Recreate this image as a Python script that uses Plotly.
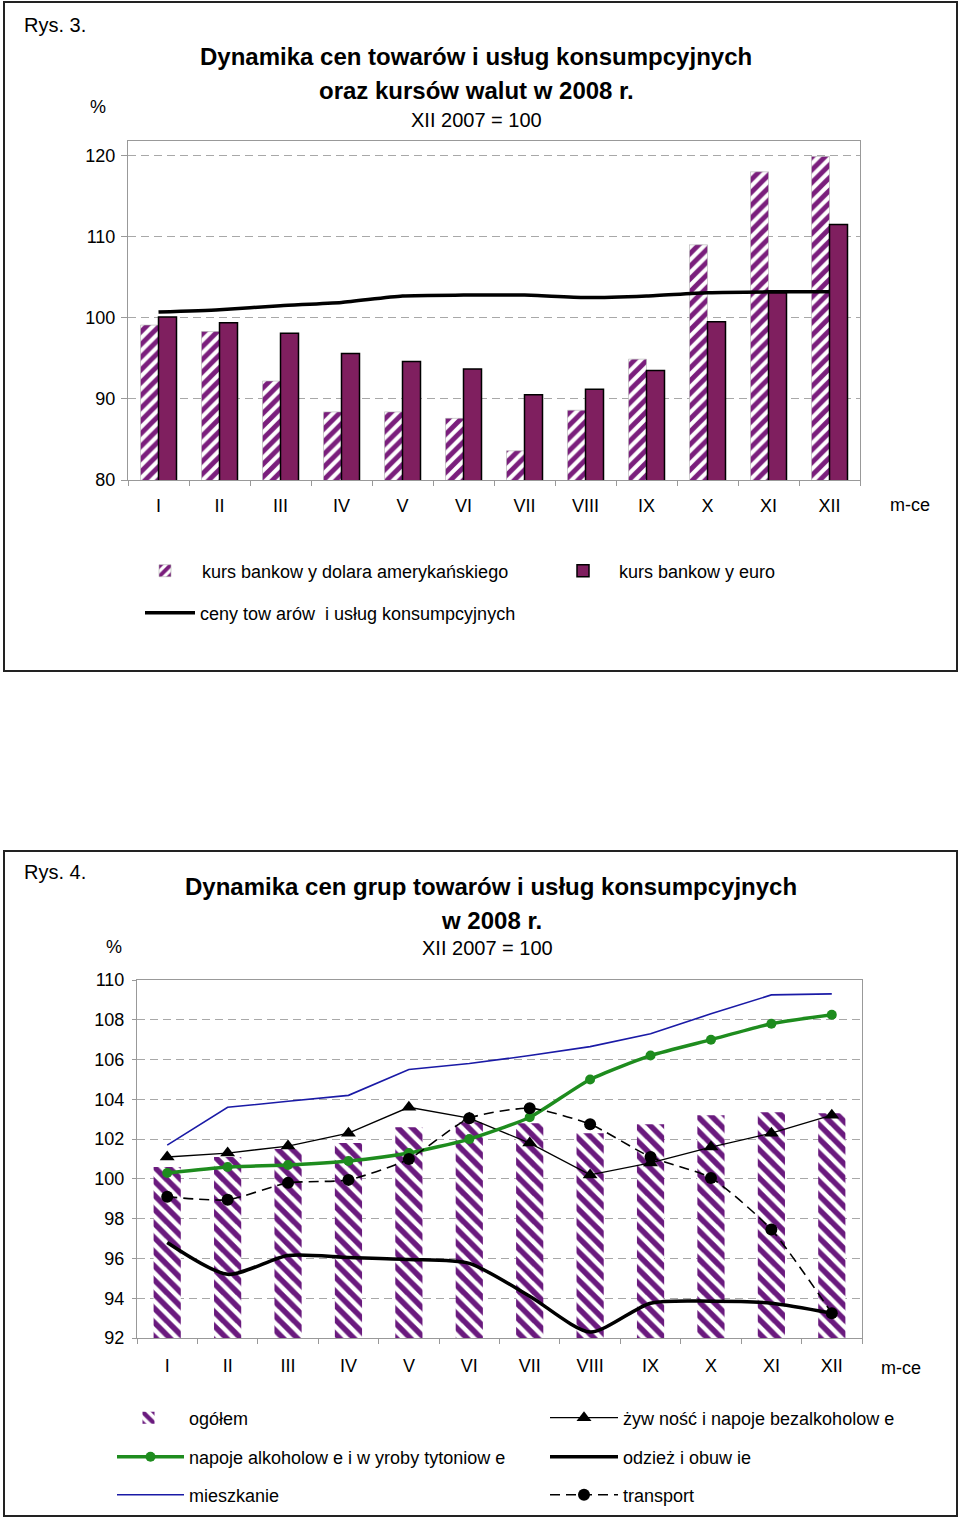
import plotly.graph_objects as go

# ---------------- data ----------------
months = ["I", "II", "III", "IV", "V", "VI", "VII", "VIII", "IX", "X", "XI", "XII"]

# Rys. 3
usd = [99.1, 98.3, 92.2, 88.4, 88.4, 87.6, 83.6, 88.6, 94.9, 109.0, 118.0, 119.9]
eur = [100.1, 99.4, 98.1, 95.6, 94.6, 93.7, 90.5, 91.2, 93.5, 99.5, 103.1, 111.5]
cpi = [100.7, 101.0, 101.5, 101.9, 102.7, 102.8, 102.8, 102.5, 102.7, 103.1, 103.2, 103.2]

# Rys. 4
ogolem = [100.6, 101.1, 101.5, 101.8, 102.6, 102.85, 102.8, 102.3, 102.75, 103.2, 103.35, 103.3]
zywnosc = [101.1, 101.3, 101.65, 102.3, 103.6, 103.05, 101.8, 100.2, 100.8, 101.6, 102.3, 103.2]
napoje = [100.3, 100.6, 100.7, 100.9, 101.3, 102.0, 103.1, 105.0, 106.2, 107.0, 107.8, 108.25]
mieszkanie = [101.7, 103.6, 103.9, 104.2, 105.5, 105.8, 106.2, 106.65, 107.3, 108.3, 109.25, 109.3]
odziez = [96.8, 95.2, 96.15, 96.05, 95.95, 95.75, 94.1, 92.3, 93.75, 93.85, 93.75, 93.25]
transport = [99.1, 98.95, 99.8, 99.95, 101.0, 103.05, 103.55, 102.75, 101.1, 100.05, 97.45, 93.25]

# ---------------- style ----------------
W, H = 960, 1520
FONT = "Liberation Sans, Arial, sans-serif"
PURPLE_HATCH = "#7a1e7c"
EURO = "#7f1f5f"
HATCH2 = "#6a1a7e"
GREEN = "#1e8c1e"
BLUE = "#1a1aa6"
GRID = "#a8a8a8"
AXIS = "#999999"


def px(x):
    return x / W


def py(y):
    return 1 - y / H


fig = go.Figure()

# ---- chart 1 ----
fig.add_trace(go.Bar(
    x=months, y=usd, name="kurs bankow y dolara amerykańskiego",
    width=0.295, offset=-0.295,
    marker=dict(color="white", line=dict(color="#b0b0b0", width=0.6),
                pattern=dict(shape="/", fgcolor=PURPLE_HATCH, bgcolor="white",
                             fgopacity=1, size=9, solidity=0.55, fillmode="overlay")),
    xaxis="x", yaxis="y", legend="legend",
))
fig.add_trace(go.Bar(
    x=months, y=eur, name="kurs bankow y euro",
    width=0.295, offset=0,
    marker=dict(color=EURO, line=dict(color="black", width=1.5)),
    xaxis="x", yaxis="y", legend="legend2",
))
fig.add_trace(go.Scatter(
    x=months, y=cpi, name="ceny tow arów  i usług konsumpcyjnych",
    mode="lines", line=dict(color="black", width=3.5, shape="spline", smoothing=0.6),
    xaxis="x", yaxis="y", legend="legend3",
))

# ---- chart 2 ----
fig.add_trace(go.Bar(
    x=months, y=ogolem, name="ogółem",
    width=0.45, offset=-0.225,
    marker=dict(color="white", line=dict(width=0),
                pattern=dict(shape="\\", fgcolor=HATCH2, bgcolor="white",
                             fgopacity=1, size=10, solidity=0.55, fillmode="overlay")),
    xaxis="x2", yaxis="y2", legend="legend4",
))
fig.add_trace(go.Scatter(
    x=months, y=zywnosc, name="żyw ność i napoje bezalkoholow e",
    mode="lines+markers", line=dict(color="black", width=1.3),
    marker=dict(symbol="triangle-up", size=13, color="black"),
    xaxis="x2", yaxis="y2", legend="legend5",
))
fig.add_trace(go.Scatter(
    x=months, y=napoje, name="napoje alkoholow e i w yroby tytoniow e",
    mode="lines+markers", line=dict(color=GREEN, width=3.5, shape="spline", smoothing=0.6),
    marker=dict(symbol="circle", size=10, color=GREEN),
    xaxis="x2", yaxis="y2", legend="legend6",
))
fig.add_trace(go.Scatter(
    x=months, y=odziez, name="odzież i obuw ie",
    mode="lines", line=dict(color="black", width=3.5, shape="spline", smoothing=0.7),
    xaxis="x2", yaxis="y2", legend="legend7",
))
fig.add_trace(go.Scatter(
    x=months, y=mieszkanie, name="mieszkanie",
    mode="lines", line=dict(color=BLUE, width=1.6),
    xaxis="x2", yaxis="y2", legend="legend8",
))
fig.add_trace(go.Scatter(
    x=months, y=transport, name="transport",
    mode="lines+markers", line=dict(color="black", width=1.6, dash="10px,6px",
                                    shape="spline", smoothing=0.6),
    marker=dict(symbol="circle", size=12, color="black"),
    xaxis="x2", yaxis="y2", legend="legend9",
))

tickfont = dict(family=FONT, size=18, color="black")

xcommon = dict(type="category", categoryorder="array", categoryarray=months,
               range=[-0.5, len(months) - 0.5], autorange=False,
               tickson="boundaries", ticks="outside", ticklen=5, tickcolor=AXIS,
               showline=True, linecolor=AXIS, linewidth=1, mirror=True,
               showgrid=False, zeroline=False, tickfont=tickfont,
               fixedrange=True)
ycommon = dict(ticks="outside", tickcolor=AXIS, showline=True, linecolor=AXIS,
               linewidth=1, mirror=True, showgrid=True, gridcolor=GRID,
               griddash="8px,5px", gridwidth=1, zeroline=False,
               tickfont=tickfont, fixedrange=True)


def legend_at(x, y, itemwidth):
    return dict(x=px(x), y=py(y), xanchor="left", yanchor="middle",
                orientation="h", itemwidth=itemwidth,
                bgcolor="rgba(0,0,0,0)", borderwidth=0,
                font=dict(family=FONT, size=18, color="black"))


fig.update_layout(
    width=W, height=H,
    margin=dict(l=0, r=0, t=0, b=0, pad=0, autoexpand=False),
    paper_bgcolor="white", plot_bgcolor="white",
    font=dict(family=FONT, size=18, color="black"),
    showlegend=True, barmode="group",
    xaxis=dict(xcommon, domain=[px(128), px(860)], anchor="y", ticklabelstandoff=9),
    yaxis=dict(ycommon, domain=[py(480), py(141)], anchor="x",
               range=[80, 121.8], tickvals=[80, 90, 100, 110, 120],
               ticklen=6, ticklabelstandoff=2),
    xaxis2=dict(xcommon, domain=[px(137), px(862)], anchor="y2", ticklabelstandoff=11),
    yaxis2=dict(ycommon, domain=[py(1338), py(980)], anchor="x2",
                range=[92, 110], tickvals=list(range(92, 111, 2)),
                ticklen=4, ticklabelstandoff=4),
    legend=legend_at(128, 571, 64),
    legend2=legend_at(547, 571, 62),
    legend3=legend_at(140, 613, 50),
    legend4=legend_at(108, 1418, 71),
    legend5=legend_at(545, 1418, 68),
    legend6=legend_at(112, 1457, 67),
    legend7=legend_at(545, 1457, 68),
    legend8=legend_at(112, 1495, 67),
    legend9=legend_at(545, 1495, 68),
)

# frames
for (x0, y0, x1, y1) in [(4, 2, 957, 671), (4, 851, 957, 1516)]:
    fig.add_shape(type="rect", xref="paper", yref="paper",
                  x0=px(x0), x1=px(x1), y0=py(y0), y1=py(y1),
                  line=dict(color="#222222", width=2), fillcolor="rgba(0,0,0,0)")

texts = [
    ("Rys. 3.", 22, 25, "left", 20, "normal"),
    ("Dynamika cen towarów i usług konsumpcyjnych", 476, 57, "center", 24, "bold"),
    ("oraz kursów walut w 2008 r.", 476, 91, "center", 24, "bold"),
    ("XII 2007 = 100", 476, 120, "center", 20, "normal"),
    ("%", 98, 107, "center", 18, "normal"),
    ("m-ce", 910, 505, "center", 18, "normal"),
    ("Rys. 4.", 22, 872, "left", 20, "normal"),
    ("Dynamika cen grup towarów i usług konsumpcyjnych", 491, 887, "center", 24, "bold"),
    ("w 2008 r.", 491, 920, "center", 24, "bold"),
    ("XII 2007 = 100", 487, 948, "center", 20, "normal"),
    ("%", 114, 947, "center", 18, "normal"),
    ("m-ce", 901, 1368, "center", 18, "normal"),
]
for t, x, y, anc, size, weight in texts:
    fig.add_annotation(text=t, x=px(x), y=py(y), xref="paper", yref="paper",
                       xanchor=anc, yanchor="middle", showarrow=False,
                       font=dict(family=FONT, size=size, color="black", weight=weight))

fig.write_html("out.html", config={"displayModeBar": False, "staticPlot": True},
               post_script="document.body.style.margin='0';document.body.style.overflow='hidden';")
